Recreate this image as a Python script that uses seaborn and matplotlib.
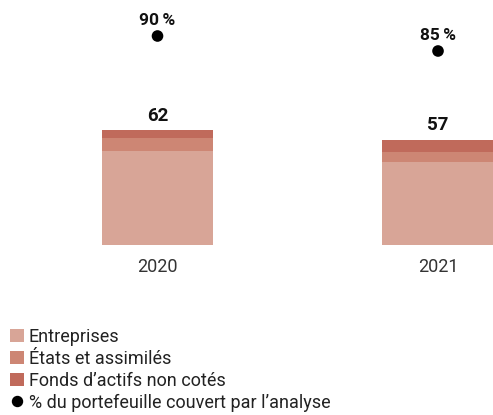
import matplotlib
matplotlib.use("Agg")
import matplotlib.pyplot as plt
import seaborn as sns
import pandas as pd
from matplotlib.patches import Patch
from matplotlib.lines import Line2D

years = ["2020", "2021"]
entreprises = [51, 45]
etats = [7, 5]
fonds = [4, 7]
totals = [62, 57]
couverture = [90, 85]

series_labels = ["Entreprises", "États et assimilés", "Fonds d’actifs non cotés"]
dot_label = "% du portefeuille couvert par l’analyse"
colors = ["#d8a597", "#cd8674", "#c06a5b"]

sns.set_theme(style="white")
plt.rcParams["font.family"] = ["Roboto", "DejaVu Sans"]

fig = plt.figure(figsize=(4.93, 4.15), dpi=100)
ax = fig.add_axes([0, 170 / 415, 1, 245 / 415])

df = pd.DataFrame({"year": years, "ent": entreprises, "eta": etats, "fon": fonds})
df["c2"] = df["ent"] + df["eta"]
df["c3"] = df["c2"] + df["fon"]

sns.barplot(data=df, x="year", y="c3", color=colors[2], width=0.396, ax=ax, saturation=1, linewidth=0)
sns.barplot(data=df, x="year", y="c2", color=colors[1], width=0.396, ax=ax, saturation=1, linewidth=0)
sns.barplot(data=df, x="year", y="ent", color=colors[0], width=0.396, ax=ax, saturation=1, linewidth=0)

ax.set_xlim(-0.5615, 1.196)
ax.set_ylim(0, 245 / 1.85)
for i, t in enumerate(totals):
    ax.annotate(str(t), (i, t), xytext=(0, 4), textcoords="offset points",
                ha="center", va="bottom", fontsize=13.5, fontweight="bold", color="#111111")

ax2 = ax.twinx()
sns.scatterplot(x=[0, 1], y=couverture, ax=ax2, color="black", s=70, edgecolor="none")
ax2.set_ylim(20.33, 102)
for i, v in enumerate(couverture):
    ax2.annotate(f"{v}\u2009%", (i, v), xytext=(0, 6), textcoords="offset points",
                 ha="center", va="bottom", fontsize=12.5, fontweight="bold", color="#111111")

for a in (ax, ax2):
    for s in a.spines.values():
        s.set_visible(False)
    a.set_yticks([])
    a.set_ylabel("")
ax.set_xlabel("")
ax.tick_params(axis="x", length=0, labelsize=13, labelcolor="#333333", pad=9)

handles = [Patch(facecolor=c, edgecolor="none") for c in colors]
handles.append(Line2D([], [], marker="o", color="black", linestyle="none", markersize=7.2))
fig.legend(handles, series_labels + [dot_label], loc="upper left",
           bbox_to_anchor=(6 / 493, 1 - 324 / 415), frameon=False,
           prop={"size": 13}, handlelength=0.77, handleheight=0.77,
           handletextpad=0.3, labelspacing=0.22,
           borderaxespad=0, borderpad=0.2, labelcolor="#222222")

fig.savefig("out.png", dpi=100)
